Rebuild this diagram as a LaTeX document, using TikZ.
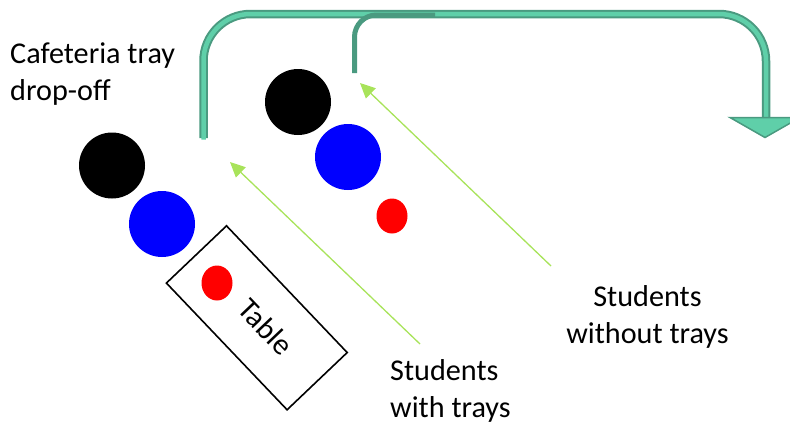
\documentclass[tikz,border=0pt]{standalone}
\usepackage{fontspec}
\setmainfont{Carlito}
\usetikzlibrary{arrows.meta,shapes.geometric}
\definecolor{arrdark}{HTML}{4A9A80}
\definecolor{arrlight}{HTML}{5FCFA9}
\definecolor{lgreen}{HTML}{A8E35A}
\tikzset{
  person/.style={circle, inner sep=0pt, minimum size=66pt},
  tray/.style={ellipse, fill=red, inner sep=0pt, minimum width=31pt, minimum height=35pt},
  lbl/.style={inner sep=0pt, font=\fontsize{30.2}{37}\selectfont},
  flow/.style={draw=lgreen, line width=1.3pt, -{Triangle[length=15pt,width=14pt]}},
}
\begin{document}
\begin{tikzpicture}[x=1pt,y=-1pt]
\useasboundingbox (0,0) rectangle (790,424);
\clip (0,0) rectangle (790,424);
% big return arrow
\coordinate (a1) at (203.5,138);
\coordinate (a2) at (203.5,14);
\coordinate (a3) at (766,14);
\coordinate (a4) at (766,119);
\draw[arrdark, line width=8.5pt, rounded corners=47pt] (a1) -- (a2) -- (a3) -- (a4);
\draw[arrlight, line width=4.5pt, rounded corners=47pt] ([yshift=-1.5pt]a1) -- (a2) -- (a3) -- (a4);
\coordinate (h1) at (730,117.5);
\coordinate (h2) at (800,117.5);
\coordinate (h3) at (765,137.5);
\draw[arrdark, fill=arrlight, line width=1.5pt, line join=miter] (h1) -- (h2) -- (h3) -- cycle;
% second arrow
\coordinate (b1) at (354.5,73);
\coordinate (b2) at (354.5,15);
\coordinate (b3) at (435,15);
\draw[arrdark, line width=5pt, rounded corners=22pt] (b1) -- (b2) -- (b3);
% people
\node[person, fill=black] (k1) at (112,165.5) {};
\node[person, fill=blue] (u1) at (162,224) {};
\node[person, fill=black] (k2) at (298,102) {};
\node[person, fill=blue] (u2) at (348,157) {};
\node[tray] (r2) at (392,216) {};
% table
\node[draw, line width=1.6pt, minimum width=175pt, minimum height=83pt, inner sep=0pt, rotate=-46.4] (table) at (256.8,317.8) {};
\node[tray] (r1) at (217,283) {};
\node[lbl, rotate=-46.4] (tabletxt) at (266,327) {Table};
% flows
\coordinate (f1s) at (420,344);
\coordinate (f1e) at (230,162);
\coordinate (f2s) at (551,266);
\coordinate (f2e) at (360,83);
\draw[flow] (f1s) -- (f1e);
\draw[flow] (f2s) -- (f2e);
% labels
\node[lbl, anchor=base west] (c1) at (10,63) {Cafeteria tray};
\node[lbl, anchor=base west] (c2) at (10,100) {drop-off};
\node[lbl, anchor=base west] (w1) at (390,380) {Students};
\node[lbl, anchor=base west] (w2) at (390,417) {with trays};
\node[lbl, anchor=base] (n1) at (647.5,306) {Students};
\node[lbl, anchor=base] (n2) at (647.5,343) {without trays};
\end{tikzpicture}
\end{document}
